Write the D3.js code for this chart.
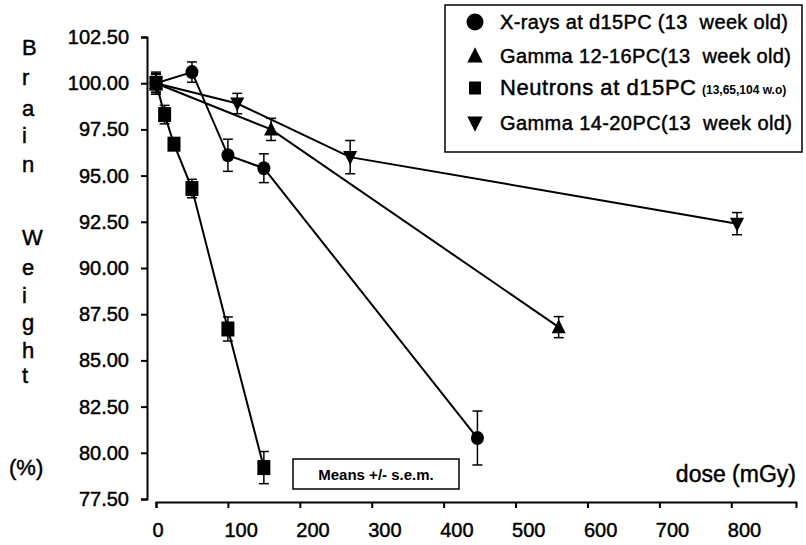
<!DOCTYPE html>
<html>
<head>
<meta charset="utf-8">
<script src="https://cdn.jsdelivr.net/npm/d3@7"></script>
<style>
  html, body { margin: 0; padding: 0; background: #fff; }
  svg { display: block; font-family: "Liberation Sans", Arial, Helvetica, sans-serif; }
  text { white-space: pre; }
</style>
</head>
<body>
<svg id="chart" width="806" height="545"></svg>
<script>
// ---- data ----
const xrayDose   = [0, 50, 100, 150, 447];
const xrayMean   = [100, 100.6, 96.1, 95.4, 80.8];
const xraySem    = [0.6, 0.55, 0.87, 0.78, 1.46];

const g1216Dose  = [0, 160, 560];
const g1216Mean  = [100, 97.5, 86.8];
const g1216Sem   = [0.5, 0.6, 0.57];

const neutDose   = [0, 12, 25, 50, 100, 150];
const neutMean   = [100, 98.3, 96.7, 94.3, 86.7, 79.2];
const neutSem    = [0.5, 0.5, 0.3, 0.5, 0.65, 0.87];

const g1420Dose  = [0, 113, 270, 808];
const g1420Mean  = [100, 98.9, 96.0, 92.4];
const g1420Sem   = [0.5, 0.55, 0.9, 0.6];

const yTicks = [77.5, 80, 82.5, 85, 87.5, 90, 92.5, 95, 97.5, 100, 102.5];
const xTicks = [0, 100, 200, 300, 400, 500, 600, 700, 800];

const seriesNames = ["X-rays at d15PC (13  week old)", "Gamma 12-16PC(13  week old)", "Neutrons at d15PC", "Gamma 14-20PC(13  week old)"];
const neutronsNote = "(13,65,104 w.o)";
const yLabelTop = ["B", "r", "a", "i", "n"];
const yLabelBottom = ["W", "e", "i", "g", "h", "t"];

// ---- build ----
const svg = d3.select("#chart");
const x = d3.scaleLinear().domain([0, 890]).range([156, 796]);
const y = d3.scaleLinear().domain([77.5, 102.5]).range([499, 37]);

const series = [
  {dose: xrayDose, mean: xrayMean, sem: xraySem, shape: "circle"},
  {dose: g1216Dose, mean: g1216Mean, sem: g1216Sem, shape: "tri"},
  {dose: neutDose, mean: neutMean, sem: neutSem, shape: "square"},
  {dose: g1420Dose, mean: g1420Mean, sem: g1420Sem, shape: "itri"}
];

const heavy = sel => sel.attr("stroke", "#000").attr("stroke-width", 0.45).attr("fill", "#000");

// axes
const yAxis = d3.axisLeft(y).tickValues(yTicks).tickFormat(d3.format(".2f")).tickSize(6).tickSizeOuter(6);
const gy = svg.append("g").attr("transform", "translate(147,0)").call(yAxis);
gy.selectAll("path, line").attr("stroke", "#000").attr("stroke-width", 2);
gy.selectAll("text").attr("font-size", 20).attr("x", -18).attr("font-family", "Liberation Sans, Arial, sans-serif").call(heavy);

const xAxis = d3.axisBottom(x).tickValues(xTicks).tickFormat(d3.format("d")).tickSize(6).tickSizeOuter(6);
const gx = svg.append("g").attr("transform", "translate(0,502)").call(xAxis);
gx.selectAll("path, line").attr("stroke", "#000").attr("stroke-width", 2);
gx.selectAll("text").attr("font-size", 20).attr("y", 21).attr("x", -4).attr("text-anchor", "start")
  .attr("font-family", "Liberation Sans, Arial, sans-serif").call(heavy);

// symbols
function drawSymbol(g, shape, cx, cy, k) {
  k = k || 1;
  if (shape === "circle") {
    g.append("ellipse").attr("cx", cx).attr("cy", cy).attr("rx", 6.5 * k).attr("ry", 7 * k).attr("fill", "#000");
  } else if (shape === "square") {
    g.append("rect").attr("x", cx - 6.5).attr("y", cy - 7.5).attr("width", 13).attr("height", 15).attr("fill", "#000");
  } else if (shape === "tri") {
    g.append("path").attr("d", `M${cx},${cy - 8 * k} L${cx + 7 * k},${cy + 6 * k} L${cx - 7 * k},${cy + 6 * k} Z`).attr("fill", "#000");
  } else {
    g.append("path").attr("d", `M${cx - 7 * k},${cy - 6 * k} L${cx + 7 * k},${cy - 6 * k} L${cx},${cy + 8 * k} Z`).attr("fill", "#000");
  }
}

const plot = svg.append("g");
series.forEach(s => {
  const pts = s.dose.map((d, i) => ({d, m: s.mean[i], e: s.sem[i]}));
  plot.append("path")
    .datum(pts)
    .attr("fill", "none").attr("stroke", "#000").attr("stroke-width", 2)
    .attr("d", d3.line().x(p => x(p.d)).y(p => y(p.m)));
  pts.forEach(p => {
    const cx = x(p.d), t = y(p.m + p.e), b = y(p.m - p.e);
    plot.append("line").attr("x1", cx).attr("x2", cx).attr("y1", t).attr("y2", b).attr("stroke", "#000").attr("stroke-width", 1.5);
    plot.append("line").attr("x1", cx - 5).attr("x2", cx + 5).attr("y1", t).attr("y2", t).attr("stroke", "#000").attr("stroke-width", 1.5);
    plot.append("line").attr("x1", cx - 5).attr("x2", cx + 5).attr("y1", b).attr("y2", b).attr("stroke", "#000").attr("stroke-width", 1.5);
  });
  pts.forEach(p => drawSymbol(plot, s.shape, x(p.d), y(p.m)));
});

// y label (stacked letters)
const yl = svg.append("g").attr("font-size", 22);
const topY = [55, 85, 116, 143, 172];
const botY = [245, 275, 303, 330, 358, 383];
yLabelTop.forEach((c, i) => yl.append("text").attr("x", 22).attr("y", topY[i]).text(c).call(heavy));
yLabelBottom.forEach((c, i) => yl.append("text").attr("x", 22).attr("y", botY[i]).text(c).call(heavy));
yl.append("text").attr("x", 9).attr("y", 475).text("(%)").call(heavy);

// x label
svg.append("text").attr("x", 796).attr("y", 482).attr("text-anchor", "end").attr("font-size", 23).text("dose (mGy)").call(heavy);

// means box
svg.append("rect").attr("x", 293).attr("y", 459).attr("width", 166).attr("height", 30).attr("fill", "#fff").attr("stroke", "#000").attr("stroke-width", 1.5);
svg.append("text").attr("x", 376).attr("y", 480).attr("text-anchor", "middle").attr("font-size", 15).attr("font-weight", "bold").text("Means +/- s.e.m.");

// legend
const lg = svg.append("g");
lg.append("rect").attr("x", 445).attr("y", 5).attr("width", 357).attr("height", 147).attr("fill", "#fff").attr("stroke", "#000").attr("stroke-width", 1.5);
const shapes = ["circle", "tri", "square", "itri"];
const rowY = [22, 56, 88, 123];
const rowLen = [288, 291, 196, 292];
const rowFont = [20, 20, 22, 20];
shapes.forEach((sh, i) => {
  if (sh === "square") {
    lg.append("rect").attr("x", 469).attr("y", rowY[i] - 6.5).attr("width", 12).attr("height", 13).attr("fill", "#000");
  } else if (sh === "circle") {
    lg.append("circle").attr("cx", 475).attr("cy", rowY[i]).attr("r", 8.5).attr("fill", "#000");
  } else {
    drawSymbol(lg, sh, 475, rowY[i], 1.1);
  }
  lg.append("text").attr("x", 500).attr("y", rowY[i] + 7).attr("font-size", rowFont[i])
    .attr("textLength", rowLen[i]).attr("lengthAdjust", "spacing").call(heavy).text(seriesNames[i]);
  if (i === 2) {
    lg.append("text").attr("x", 702).attr("y", rowY[i] + 6).attr("font-size", 12).attr("font-weight", "bold")
      .text(neutronsNote);
  }
});
</script>
</body>
</html>
